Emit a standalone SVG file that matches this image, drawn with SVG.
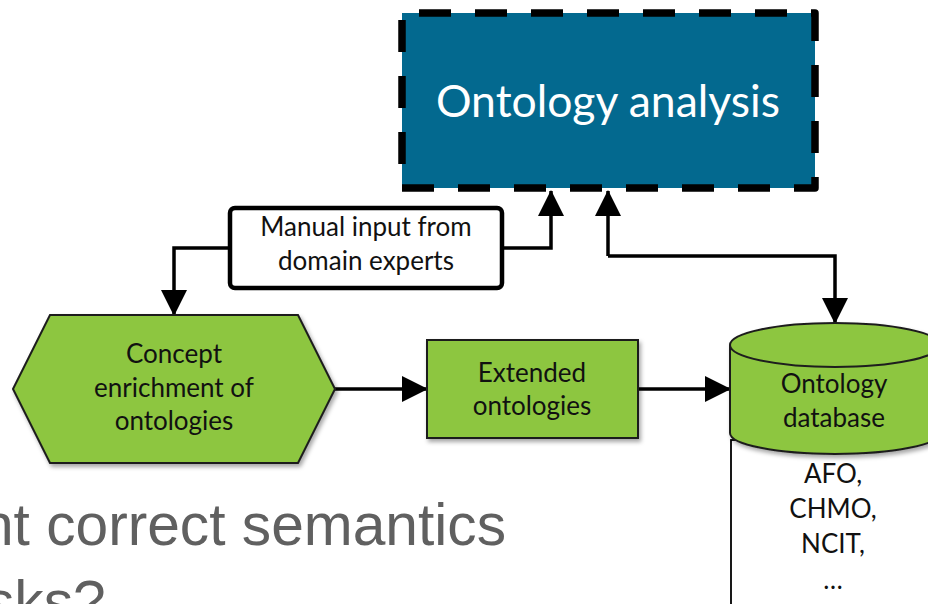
<svg xmlns="http://www.w3.org/2000/svg" width="928" height="604" viewBox="0 0 928 604">
  <style>
    .lbl { font-family: Lato, "Open Sans", "Liberation Sans", sans-serif; font-size: 26px; fill: #111; text-anchor: middle; }
    .green { fill: #8dc63f; stroke: #1e1e1e; stroke-width: 2; }
    .conn { fill: none; stroke: #000; stroke-width: 3.5; }
    .bg { font-family: "Liberation Sans", Arial, sans-serif; font-size: 58.7px; fill: #606060; }
  </style>
  <defs>
    <marker id="arrow" markerUnits="userSpaceOnUse" markerWidth="26" markerHeight="26" viewBox="0 0 26 26" refX="25" refY="13" orient="auto">
      <path d="M0,0 L26,13 L0,26 Z" fill="#000"/>
    </marker>
    <filter id="shadow" x="-10%" y="-10%" width="130%" height="130%">
      <feDropShadow dx="2" dy="3" stdDeviation="2" flood-color="#000" flood-opacity="0.35"/>
    </filter>
  </defs>

  <!-- slide body text behind the diagram -->
  <text class="bg" x="506" y="545" text-anchor="end">nt correct semantics</text>
  <text class="bg" x="-64" y="622">tasks?</text>

  <!-- connectors -->
  <g id="connectors">
    <path class="conn" d="M230,248 H174 V315" marker-end="url(#arrow)"/>
    <path class="conn" d="M502,248 H551 V191" marker-end="url(#arrow)"/>
    <path class="conn" d="M608,256 V191" marker-end="url(#arrow)"/>
    <path class="conn" d="M608,256 H835 V323" marker-end="url(#arrow)"/>
    <path class="conn" d="M335,389 H427" marker-end="url(#arrow)"/>
    <path class="conn" d="M638,389 H730" marker-end="url(#arrow)"/>
  </g>

  <!-- ontology analysis -->
  <g id="ontology-analysis">
    <rect x="402" y="13" width="413" height="175" fill="#03698f"/>
    <path d="M402,188 H815 V13 H402 Z" fill="none" stroke="#000" stroke-width="7.5" stroke-dasharray="32 24" stroke-linejoin="round"/>
    <text x="608" y="117" font-family="Lato, 'Open Sans', sans-serif" font-size="44.5" fill="#fff" text-anchor="middle">Ontology analysis</text>
  </g>

  <!-- manual input -->
  <g id="manual-input">
    <rect x="230" y="208" width="272" height="80" rx="5" fill="#fff" stroke="#000" stroke-width="4.5"/>
    <text class="lbl" x="366" y="236">Manual input from</text>
    <text class="lbl" x="366" y="270">domain experts</text>
  </g>

  <!-- concept enrichment -->
  <g id="concept-enrichment">
    <polygon class="green" filter="url(#shadow)" points="13,389 50,315 298,315 335,389 298,463 50,463"/>
    <text class="lbl" x="174" y="363">Concept</text>
    <text class="lbl" x="174" y="397">enrichment of</text>
    <text class="lbl" x="174" y="430">ontologies</text>
  </g>

  <!-- extended ontologies -->
  <g id="extended-ontologies">
    <rect class="green" filter="url(#shadow)" x="427" y="340" width="211" height="98"/>
    <text class="lbl" x="532" y="382">Extended</text>
    <text class="lbl" x="532" y="415">ontologies</text>
  </g>

  <!-- ontology list -->
  <g id="ontology-list">
    <rect x="731" y="440" width="300" height="200" fill="#fff" stroke="#000" stroke-width="1.8"/>
    <text class="lbl" x="833" y="483">AFO,</text>
    <text class="lbl" x="833" y="518">CHMO,</text>
    <text class="lbl" x="833" y="553">NCIT,</text>
    <text class="lbl" x="833" y="589">…</text>
  </g>

  <!-- ontology database -->
  <g id="ontology-database">
    <path class="green" filter="url(#shadow)" d="M730,345 V433 A105,21 0 0 0 940,433 V345 A105,22 0 0 0 730,345 Z"/>
    <path d="M730,345 A105,22 0 0 0 940,345" fill="none" stroke="#1e1e1e" stroke-width="2"/>
    <text class="lbl" x="834" y="393">Ontology</text>
    <text class="lbl" x="834" y="427">database</text>
  </g>
</svg>
